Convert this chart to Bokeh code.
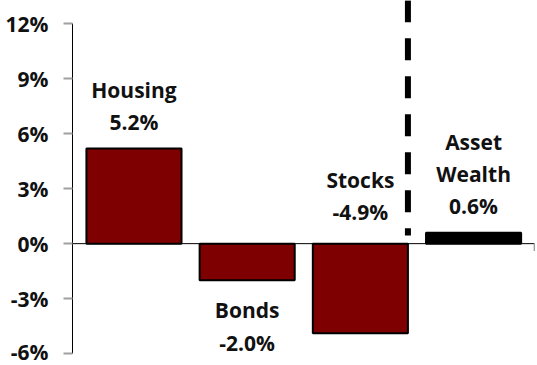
from bokeh.plotting import figure
from bokeh.models import ColumnDataSource, Range1d, FixedTicker, CustomJSTickFormatter
from bokeh.core.properties import value
from bokeh.embed import file_html
from bokeh.resources import INLINE

categories = ["Housing", "Bonds", "Stocks", "Asset\nWealth"]
values = [5.2, -2.0, -4.9, 0.6]
colors = ["#7f0000", "#7f0000", "#7f0000", "#000000"]
y_ticks = [-6, -3, 0, 3, 6, 9, 12]

# label layout (data units): centre of the last (value) line, and line step
label_anchor = [6.65, -5.4, 1.75, 2.05]
line_step = 1.75
FONT = "Open Sans"

xs = list(range(len(categories)))
bar_w = 0.84
x_lo, x_hi = -0.543, 3.547

p = figure(width=537, height=365, output_backend="svg", toolbar_location=None,
           x_range=Range1d(x_lo, x_hi), y_range=Range1d(-6.0, 13.28),
           min_border_left=72, min_border_right=2, min_border_top=0, min_border_bottom=12,
           x_axis_location=None)
p.outline_line_color = None
p.grid.visible = False
p.background_fill_color = "white"

src = ColumnDataSource(dict(x=xs, top=values, color=colors))
p.vbar(x="x", top="top", bottom=0, width=bar_w, fill_color="color",
       line_color="black", line_width=2, source=src)

# horizontal zero axis line with a small end tick
x_end = x_hi - 0.01
p.segment(x0=[x_lo], y0=[0], x1=[x_end], y1=[0], line_color="black", line_width=1)
p.segment(x0=[x_end], y0=[0], x1=[x_end], y1=[-0.4], line_color="#a0a0a0", line_width=1.5)

# dashed divider at right edge of Stocks bar (drawn top-down)
xd = xs[2] + bar_w / 2
p.segment(x0=[xd], y0=[13.3], x1=[xd], y1=[0.45], line_color="black",
          line_width=6, line_dash="22 16")

# labels
tx, ty, tt = [], [], []
for i, (c, v) in enumerate(zip(categories, values)):
    lines = c.split("\n") + [f"{v:.1f}%"]
    n = len(lines)
    for k, ln in enumerate(lines):
        tx.append(xs[i])
        ty.append(label_anchor[i] + (n - 1 - k) * line_step)
        tt.append(ln)
p.text(x=tx, y=ty, text=tt, text_align="center", text_baseline="middle",
       text_font=value(FONT), text_font_style="bold", text_font_size="21px",
       text_color="#111111")

ax = p.yaxis[0]
ax.bounds = (-6, 12)
ax.ticker = FixedTicker(ticks=y_ticks)
ax.formatter = CustomJSTickFormatter(code="return tick.toFixed(0) + '%';")
ax.major_label_text_font = FONT
ax.major_label_text_font_style = "bold"
ax.major_label_text_font_size = "21px"
ax.major_label_text_color = "#111111"
ax.major_label_standoff = 15
ax.axis_line_color = "black"
ax.axis_line_width = 1
ax.major_tick_line_color = "#a0a0a0"
ax.major_tick_line_width = 2
ax.major_tick_out = 9
ax.major_tick_in = 0
ax.minor_tick_line_color = None

open("out.html", "w").write(file_html(p, INLINE))
